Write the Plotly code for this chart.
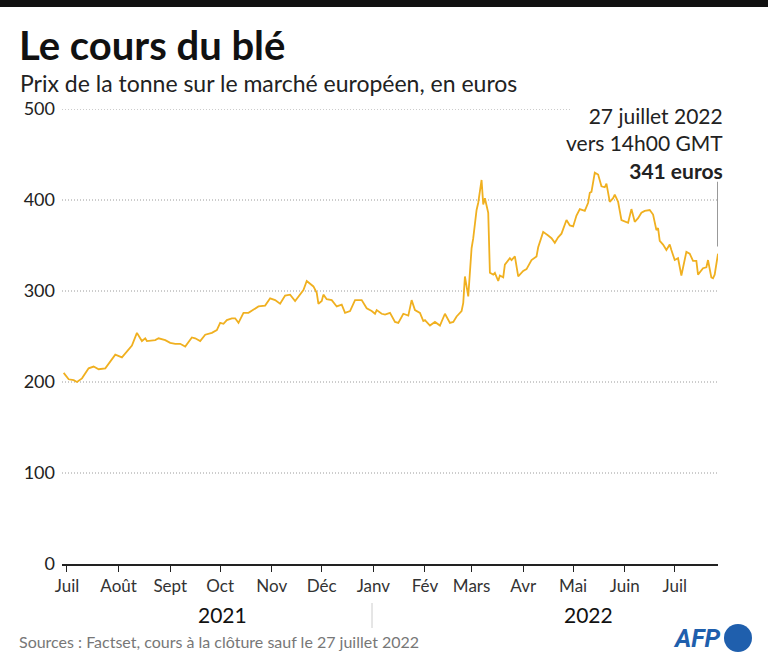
"""Le cours du blé — prix de la tonne sur le marché européen (Plotly)"""

import plotly.graph_objects as go

# ── 데이터 ────────────────────────────────────────────────
dates = [
    "2021-06-29", "2021-07-02", "2021-07-05", "2021-07-07", "2021-07-10", "2021-07-14",
    "2021-07-17", "2021-07-20", "2021-07-24", "2021-07-27", "2021-07-30", "2021-08-03",
    "2021-08-06", "2021-08-09", "2021-08-12", "2021-08-15", "2021-08-17", "2021-08-18",
    "2021-08-23", "2021-08-25", "2021-08-29", "2021-09-01", "2021-09-04", "2021-09-07",
    "2021-09-10", "2021-09-14", "2021-09-16", "2021-09-19", "2021-09-22", "2021-09-26",
    "2021-09-29", "2021-10-01", "2021-10-03", "2021-10-05", "2021-10-08", "2021-10-10",
    "2021-10-12", "2021-10-15", "2021-10-18", "2021-10-21", "2021-10-24", "2021-10-28",
    "2021-10-31", "2021-11-03", "2021-11-06", "2021-11-09", "2021-11-12", "2021-11-15",
    "2021-11-18", "2021-11-20", "2021-11-22", "2021-11-24", "2021-11-26", "2021-11-28",
    "2021-11-29", "2021-12-01", "2021-12-02", "2021-12-04", "2021-12-07", "2021-12-10",
    "2021-12-13", "2021-12-15", "2021-12-18", "2021-12-21", "2021-12-25", "2021-12-28",
    "2021-12-31", "2022-01-02", "2022-01-03", "2022-01-06", "2022-01-08", "2022-01-11",
    "2022-01-14", "2022-01-16", "2022-01-19", "2022-01-22", "2022-01-24", "2022-01-26",
    "2022-01-29", "2022-01-31", "2022-02-01", "2022-02-04", "2022-02-07", "2022-02-10",
    "2022-02-13", "2022-02-16", "2022-02-18", "2022-02-20", "2022-02-23", "2022-02-24",
    "2022-02-25", "2022-02-27", "2022-02-28", "2022-03-01", "2022-03-02", "2022-03-04",
    "2022-03-05", "2022-03-07", "2022-03-08", "2022-03-09", "2022-03-11", "2022-03-12",
    "2022-03-14", "2022-03-15", "2022-03-17", "2022-03-18", "2022-03-20", "2022-03-21",
    "2022-03-24", "2022-03-25", "2022-03-27", "2022-03-29", "2022-04-01", "2022-04-03",
    "2022-04-06", "2022-04-09", "2022-04-10", "2022-04-13", "2022-04-16", "2022-04-18",
    "2022-04-20", "2022-04-22", "2022-04-24", "2022-04-27", "2022-04-29", "2022-05-01",
    "2022-05-03", "2022-05-05", "2022-05-08", "2022-05-10", "2022-05-11", "2022-05-12",
    "2022-05-14", "2022-05-16", "2022-05-18", "2022-05-20", "2022-05-21", "2022-05-23",
    "2022-05-25", "2022-05-26", "2022-05-28", "2022-05-30", "2022-06-03", "2022-06-05",
    "2022-06-07", "2022-06-09", "2022-06-11", "2022-06-13", "2022-06-16", "2022-06-18",
    "2022-06-20", "2022-06-21", "2022-06-22", "2022-06-24", "2022-06-26", "2022-06-28",
    "2022-06-29", "2022-07-01", "2022-07-03", "2022-07-05", "2022-07-08", "2022-07-10",
    "2022-07-12", "2022-07-14", "2022-07-15", "2022-07-18", "2022-07-20", "2022-07-21",
    "2022-07-23", "2022-07-24", "2022-07-25", "2022-07-27",
]
prices = [
    210, 203, 202, 200, 204, 215,
    217, 214, 215, 223, 230, 227,
    234, 240, 254, 245, 248, 245,
    246, 248, 246, 243, 242, 242,
    239, 249, 248, 245, 252, 254,
    257, 265, 264, 268, 270, 270,
    265, 276, 276, 280, 283, 284,
    292, 290, 286, 295, 296, 289,
    297, 301, 311, 308, 305, 298,
    286, 289, 296, 291, 290, 283,
    285, 276, 278, 290, 290, 281,
    278, 275, 279, 275, 274, 276,
    266, 265, 275, 273, 290, 279,
    276, 267, 268, 262, 266, 262,
    275, 265, 266, 272, 278, 287,
    316, 294, 327, 347, 358, 389,
    397, 422, 395, 402, 386, 320,
    318, 320, 311, 317, 315, 329,
    336, 334, 338, 316, 322, 324,
    334, 338, 348, 365, 361, 358,
    353, 359, 363, 378, 372, 371,
    383, 390, 388, 397, 408, 409,
    430, 428, 415, 414, 418, 398,
    402, 406, 398, 378, 375, 390,
    376, 380, 386, 388, 389, 384,
    367, 369, 355, 351, 345, 351,
    345, 334, 336, 317, 343, 341,
    333, 333, 318, 325, 326, 334,
    315, 314, 318, 341,
]

month_ticks = [
    "2021-07-01", "2021-08-01", "2021-09-01", "2021-10-01", "2021-11-01",
    "2021-12-01", "2022-01-01", "2022-02-01", "2022-03-01", "2022-04-01",
    "2022-05-01", "2022-06-01", "2022-07-01",
]
month_labels = [
    "Juil", "Août", "Sept", "Oct", "Nov", "Déc", "Janv",
    "Fév", "Mars", "Avr", "Mai", "Juin", "Juil",
]
y_ticks = [0, 100, 200, 300, 400, 500]

# ── 레이아웃 상수 (픽셀) ──────────────────────────────────────
W, H = 768, 663
PL, PR, PT, PB = 62, 718, 109, 564   # 플롯 영역
PW, PH = PR - PL, PB - PT

FONT = "Lato, 'Open Sans', sans-serif"
LINE_COLOR = "#F0B020"
AFP_BLUE = "#1F5FAD"
GRID = dict(color="#9a9a9a", width=1, dash="1px,2px")


def px(x):
    """픽셀 x -> paper 좌표."""
    return (x - PL) / PW


def py(y):
    """픽셀 y -> paper 좌표."""
    return (PB - y) / PH


fig = go.Figure(go.Scatter(
    x=dates, y=prices, mode="lines",
    line=dict(color=LINE_COLOR, width=1.8),
    hoverinfo="x+y",
))

fig.update_layout(
    width=W, height=H,
    margin=dict(l=PL, r=W - PR, t=PT, b=H - PB),
    paper_bgcolor="white", plot_bgcolor="white",
    font=dict(family=FONT, color="#222"),
    showlegend=False,
)

fig.update_xaxes(
    range=["2021-06-28", "2022-07-27"],
    tickvals=month_ticks, ticktext=month_labels,
    ticks="outside", ticklen=6, tickwidth=1, tickcolor="#222",
    tickfont=dict(size=17, color="#333"),
    showline=True, linecolor="#222", linewidth=2,
    showgrid=False, zeroline=False,
)
fig.update_yaxes(
    range=[0, 500], tickvals=y_ticks,
    tickfont=dict(size=18, color="#222"), ticklabelstandoff=6,
    showgrid=False, zeroline=False, showline=False, ticks="",
)

shapes = [
    # 상단 검은 띠
    dict(type="rect", xref="paper", yref="paper",
         x0=px(0), x1=px(W), y0=py(-1), y1=py(7),
         fillcolor="#111", line=dict(width=0)),
]
# 점선 그리드 (500선은 주석 앞에서 끝남)
for v in y_ticks[1:]:
    shapes.append(dict(type="line", xref="paper", yref="y",
                       x0=0, x1=px(570) if v == 500 else 1, y0=v, y1=v,
                       line=GRID, layer="below"))
shapes += [
    # 최종값 지시선
    dict(type="line", xref="x", yref="y",
         x0=dates[-1], x1=dates[-1], y0=349, y1=420,
         line=dict(color="#777", width=1.5)),
    # 연도 구분선
    dict(type="line", xref="paper", yref="paper",
         x0=px(372), x1=px(372), y0=py(603), y1=py(628),
         line=dict(color="#ccc", width=1)),
    # AFP 원
    dict(type="circle", xref="paper", yref="paper",
         x0=px(724), x1=px(752), y0=py(624), y1=py(652),
         fillcolor=AFP_BLUE, line=dict(width=0)),
]

annotations = [
    dict(text="<b>Le cours du blé</b>", x=px(17), y=py(45),
         xanchor="left", yanchor="middle", font=dict(size=40, color="#111")),
    dict(text="Prix de la tonne sur le marché européen, en euros",
         x=px(18), y=py(83), xanchor="left", yanchor="middle",
         font=dict(size=23, color="#222")),
    dict(text="27 juillet 2022<br>vers 14h00 GMT<br><b>341 euros</b>",
         x=px(725), y=py(101), xanchor="right", yanchor="top", align="right",
         font=dict(size=21, color="#222")),
    dict(text="2021", x=px(222), y=py(614), xanchor="center", yanchor="middle",
         font=dict(size=21, color="#111")),
    dict(text="2022", x=px(588), y=py(614), xanchor="center", yanchor="middle",
         font=dict(size=21, color="#111")),
    dict(text="Sources : Factset, cours à la clôture sauf le 27 juillet 2022",
         x=px(17), y=py(641), xanchor="left", yanchor="middle",
         font=dict(size=16, color="#777")),
    dict(text="<b><i>AFP</i></b>", x=px(723), y=py(638), xanchor="right",
         yanchor="middle", font=dict(size=25, color=AFP_BLUE, family="Roboto")),
]

for a in annotations:
    a.setdefault("xref", "paper")
    a.setdefault("yref", "paper")
    a.setdefault("showarrow", False)

fig.update_layout(shapes=shapes, annotations=annotations)

# body 기본 여백(8px) 제거 → 768x663 창에 그대로 맞춤
fig.write_html("out.html", config={"displayModeBar": False},
               post_script="document.body.style.margin='0';")
